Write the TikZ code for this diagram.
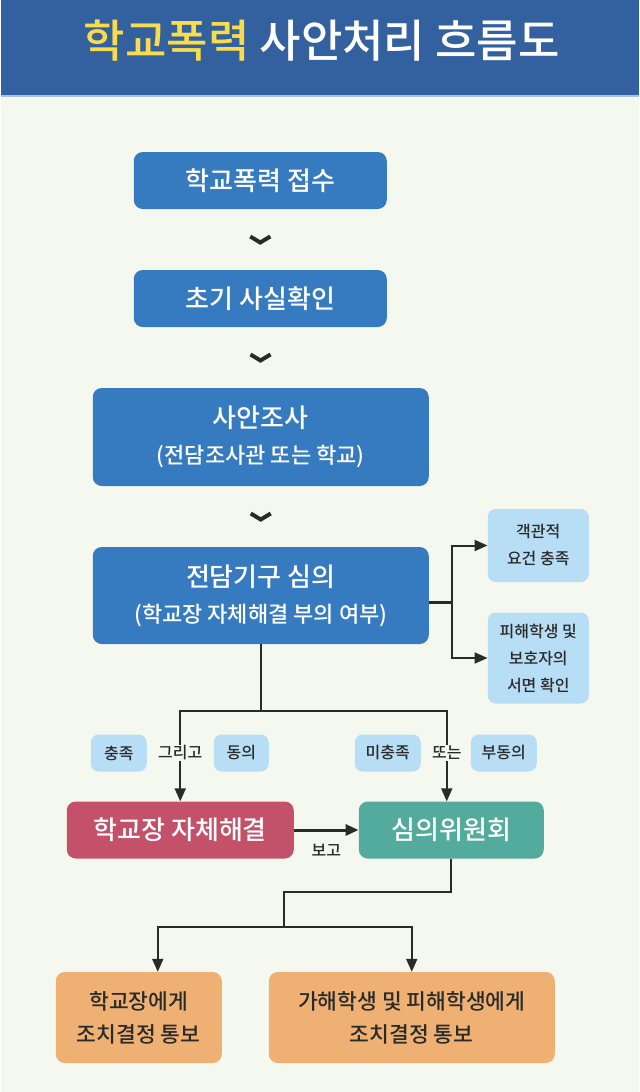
\documentclass[tikz,border=0pt]{standalone}
\usepackage{fontspec}
\setmainfont{Noto Sans CJK KR}[UprightFont={* Medium}]
\usepackage{xcolor}
\usepackage{tikz}
\usetikzlibrary{arrows.meta}
\usetikzlibrary{calc}

\definecolor{headblue}{HTML}{33609E}
\definecolor{headline}{HTML}{A9C3E2}
\definecolor{stepblue}{HTML}{367BBF}
\definecolor{paleblue}{HTML}{B8DEF5}
\definecolor{rosered}{HTML}{C4516A}
\definecolor{seagreen}{HTML}{52AB9D}
\definecolor{peach}{HTML}{EEB173}
\definecolor{paper}{HTML}{F5F8EF}
\definecolor{ink}{HTML}{2A2A2A}
\definecolor{titleyellow}{HTML}{F8DC4B}

\newcommand{\bigline}[1]{{\fontsize{26}{36}\selectfont #1}}

\tikzset{
  box/.style={rounded corners=9pt, inner sep=0pt, align=center, text=white},
  flow/.style={box, fill=stepblue, font=\fontsize{26}{36}\selectfont},
  flowtwo/.style={box, fill=stepblue, font=\fontsize{22}{36}\selectfont},
  note/.style={box, fill=paleblue, rounded corners=8pt, text=ink,
               font=\fontsize{16}{27}\selectfont},
  pill/.style={box, fill=paleblue, rounded corners=8pt, text=ink,
               minimum height=37pt, font=\fontsize{16}{20}\selectfont},
  word/.style={fill=paper, inner sep=1pt, text=ink, font=\fontsize{16}{20}\selectfont},
  result/.style={box, fill=peach, text=ink, font=\fontsize{21.5}{33}\selectfont},
  arr/.style={-{Triangle[length=13pt,width=11pt]}, line width=2pt, draw=ink},
  chev/.style={line width=4pt, draw=ink, line join=miter}
}

\begin{document}
\begin{tikzpicture}[x=1pt, y=-1pt]
      \fill[paper] (0,0) rectangle (638,1092);
      \fill[headblue] (0,0) rectangle (638,96);
      \draw[headline, line width=1.5pt] (0,96) -- (638,96);
      \node (title) at (321,41) {\fontsize{45}{52}\selectfont
        \textcolor{titleyellow}{학교폭력} \textcolor{white}{사안처리 흐름도}};

      % main steps
      \node[flow, minimum width=253pt, minimum height=57pt] (recv)  at (259.5,180.5) {학교폭력 접수};
      \node[flow, minimum width=253pt, minimum height=57pt] (check) at (259.5,298.5) {초기 사실확인};
      \node[flowtwo, minimum width=336pt, minimum height=98pt] (probe) at (260,437)
            {\bigline{사안조사}\\(전담조사관 또는 학교)};
      \node[flowtwo, minimum width=336pt, minimum height=97pt] (deliberate) at (260,595.5)
            {\bigline{전담기구 심의}\\(학교장 자체해결 부의 여부)};

      \coordinate (v1) at ($(recv.south)!0.5!(check.north)$);
      \coordinate (v2) at ($(check.south)!0.5!(probe.north)$);
      \coordinate (v3) at ($(probe.south)!0.5!(deliberate.north)$);
      \foreach \v in {v1,v2,v3}
        \draw[chev] ([shift={(-10,-3)}]\v) -- ([shift={(0,3)}]\v) -- ([shift={(10,-3)}]\v);

      % conditions on the right
      \node[note, minimum width=101pt, minimum height=73pt] (objective) at (537.5,545.5) {객관적\\요건 충족};
      \node[note, minimum width=101pt, minimum height=91pt] (consent)   at (537.5,658) {피해학생 및\\보호자의\\서면 확인};
      \coordinate (split) at (451,602);
      \draw[line width=3pt, ink] ([yshift=-6.5pt]deliberate.east) -- (split);
      \draw[arr] (split) |- (objective.west);
      \draw[arr] (split) |- (consent.west);

      % outcomes
      \node[box, fill=rosered, minimum width=227pt, minimum height=57pt,
            font=\fontsize{26}{30}\selectfont] (selfres) at (179.5,830) {학교장 자체해결};
      \node[box, fill=seagreen, minimum width=185pt, minimum height=57pt,
            font=\fontsize{26}{30}\selectfont] (committee) at (450.5,830) {심의위원회};

      \coordinate (branch) at (260,711);
      \draw[ink, line width=2pt] (deliberate.south) -- (branch);
      \draw[arr] (branch) -| (selfres.north);
      \draw[arr] (branch) -| ([xshift=-4.5pt]committee.north);

      \node[pill, minimum width=56pt] (met)    at (118,753) {충족};
      \node[word] (and) at (179.5,753) {그리고};
      \node[pill, minimum width=55pt] (agree)  at (240.5,753) {동의};
      \node[pill, minimum width=66pt] (unmet)  at (387,753) {미충족};
      \node[word] (or) at (446,753) {또는};
      \node[pill, minimum width=66pt] (refuse) at (503,753) {부동의};

      \draw[arr, line width=3pt] (selfres) to node[below=9pt, text=ink,
            font=\fontsize{16}{20}\selectfont] (report) {보고} (committee);

      % notices
      \node[result, minimum width=166pt, minimum height=91pt] (notifyhead) at (138,1017.5)
            {학교장에게\\조치결정 통보};
      \node[result, minimum width=286pt, minimum height=91pt] (notifyboth) at (411,1017.5)
            {가해학생 및 피해학생에게\\조치결정 통보};

      \coordinate (bend) at (283,892);
      \coordinate (fork) at (283,927);
      \draw[ink, line width=2pt] (committee.south) |- (bend) -- (fork);
      \draw[arr] (fork) -| ([xshift=19pt]notifyhead.north);
      \draw[arr] (fork) -| (notifyboth.north);
    \end{tikzpicture}
\end{document}
